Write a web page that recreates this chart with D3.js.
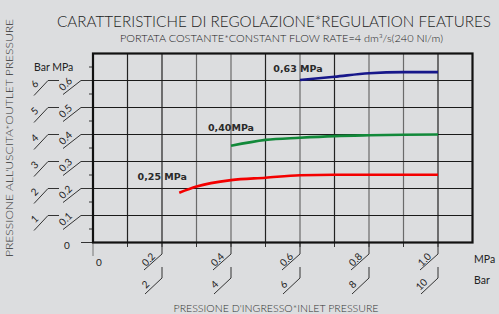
<!DOCTYPE html>
<html>
<head>
<meta charset="utf-8">
<script src="https://cdn.jsdelivr.net/npm/d3@7"></script>
<style>
  body { margin: 0; background: #dcdddf; }
  svg { display: block; font-family: Lato, 'Open Sans', sans-serif; }
</style>
</head>
<body>
<div class="chart"></div>
<script>
// inlet pressure (MPa) -> outlet pressure (MPa)
const inletTicks = [0, 0.1, 0.2, 0.3, 0.4, 0.5, 0.6, 0.7, 0.8, 0.9, 1.0];
const inletLabelVals = [0.2, 0.4, 0.6, 0.8, 1.0];
const inletMpaLabels = ['0.2', '0.4', '0.6', '0.8', '1.0'];
const inletBarLabels = ['2', '4', '6', '8', '10'];

const outletVals = [0.1, 0.2, 0.3, 0.4, 0.5, 0.6];
const outletMpaLabels = ['0.1', '0.2', '0.3', '0.4', '0.5', '0.6'];
const outletBarLabels = ['1', '2', '3', '4', '5', '6'];
const outletMinor = [0.05, 0.15, 0.25, 0.35, 0.45, 0.55, 0.65];

const seriesNames = ['0,25 MPa', '0,40MPa', '0,63 MPa'];
const curve025 = [[0.25, 0.184], [0.30, 0.207], [0.40, 0.231], [0.50, 0.240], [0.60, 0.249], [0.70, 0.251], [1.0, 0.251]];
const curve040 = [[0.40, 0.358], [0.50, 0.380], [0.60, 0.388], [0.70, 0.394], [0.80, 0.397], [0.90, 0.399], [1.0, 0.400]];
const curve063 = [[0.60, 0.602], [0.70, 0.614], [0.80, 0.627], [0.90, 0.631], [1.0, 0.631]];

const colors = ['#f40000', '#12893a', '#17178a'];
const labelOffsets = [[-17, -16], [0, -18], [-2, -11]];

const W = 499, H = 314;
const x = d3.scaleLinear().domain([0, 1.1]).range([93, 472.5]);
const y = d3.scaleLinear().domain([0, 0.7]).range([242.5, 53.5]);

const svg = d3.select('.chart').append('svg')
  .attr('width', W)
  .attr('height', H);

svg.append('rect').attr('width', W).attr('height', H).attr('fill', '#dcdddf');

// titles
svg.append('text')
  .attr('x', 274).attr('y', 27)
  .attr('text-anchor', 'middle')
  .attr('font-size', 15.5)
  .attr('font-weight', 300)
  .attr('textLength', 434).attr('lengthAdjust', 'spacingAndGlyphs')
  .attr('fill', '#222')
  .text('CARATTERISTICHE DI REGOLAZIONE*REGULATION FEATURES');

svg.append('text')
  .attr('x', 281.5).attr('y', 42)
  .attr('text-anchor', 'middle')
  .attr('font-size', 9.5)
  .attr('font-weight', 300)
  .attr('textLength', 323).attr('lengthAdjust', 'spacingAndGlyphs')
  .attr('fill', '#222')
  .text('PORTATA COSTANTE*CONSTANT FLOW RATE=4 dm³/s(240 Nl/m)');

svg.append('text')
  .attr('transform', 'translate(13,138) rotate(-90)')
  .attr('text-anchor', 'middle')
  .attr('font-size', 9)
  .attr('font-weight', 300)
  .attr('textLength', 238).attr('lengthAdjust', 'spacingAndGlyphs')
  .attr('fill', '#333')
  .text("PRESSIONE ALL'USCITA*OUTLET PRESSURE");

svg.append('text')
  .attr('x', 276).attr('y', 312)
  .attr('text-anchor', 'middle')
  .attr('font-size', 9)
  .attr('font-weight', 300)
  .attr('textLength', 205).attr('lengthAdjust', 'spacingAndGlyphs')
  .attr('fill', '#333')
  .text("PRESSIONE D'INGRESSO*INLET PRESSURE");

// grid
const grid = svg.append('g');
grid.selectAll('.vg')
  .data(inletTicks.filter(d => d > 0))
  .enter().append('line')
  .attr('x1', d => x(d)).attr('x2', d => x(d))
  .attr('y1', y(0.7)).attr('y2', y(0))
  .attr('stroke', (d, i) => [0, 1, 4, 6, 9].includes(i) ? '#222' : '#6a6a6a')
  .attr('stroke-width', 1.2);

grid.selectAll('.hg')
  .data(outletVals)
  .enter().append('line')
  .attr('x1', x(0)).attr('x2', x(1.1))
  .attr('y1', d => y(d)).attr('y2', d => y(d))
  .attr('stroke', '#1a1a1a')
  .attr('stroke-width', 1.2);

// bottom ticks
const axisB = svg.append('g').attr('stroke', '#333').attr('fill', 'none').attr('stroke-width', 1);
axisB.selectAll('.bt')
  .data(inletTicks)
  .enter().append('line')
  .attr('x1', d => x(d)).attr('x2', d => x(d))
  .attr('y1', y(0)).attr('y2', d => d === 0 ? 256 : 247)
  .attr('stroke', d => d === 0 ? '#777' : '#333');

axisB.selectAll('.bc1')
  .data(inletLabelVals)
  .enter().append('path')
  .attr('d', d => `M${x(d)},${y(0)}V254L${x(d) - 18},270`);

axisB.selectAll('.bc2')
  .data(inletLabelVals)
  .enter().append('path')
  .attr('d', d => `M${x(d)},267V278L${x(d) - 17},294`);

const bl = svg.append('g').attr('font-size', 10).attr('fill', '#222').attr('text-anchor', 'middle');
bl.selectAll('.bm')
  .data(inletLabelVals)
  .enter().append('text')
  .attr('transform', d => `translate(${x(d) - 11},${262}) rotate(-45)`)
  .text((d, i) => inletMpaLabels[i]);
bl.selectAll('.bb')
  .data(inletLabelVals)
  .enter().append('text')
  .attr('transform', d => `translate(${x(d) - 14},${287}) rotate(-45)`)
  .text((d, i) => inletBarLabels[i]);
bl.append('text').attr('x', x(0) + 6).attr('y', 266).text('0');
bl.append('text').attr('x', 474).attr('y', 263).attr('text-anchor', 'start').attr('font-size', 10.5).text('MPa');
bl.append('text').attr('x', 474).attr('y', 284).attr('text-anchor', 'start').attr('font-size', 10.5).text('Bar');

// left ticks
const axisL = svg.append('g').attr('stroke', '#333').attr('fill', 'none').attr('stroke-width', 1);
axisL.selectAll('.lm')
  .data(outletMinor)
  .enter().append('line')
  .attr('x1', x(0) - 4).attr('x2', x(0))
  .attr('y1', d => y(d)).attr('y2', d => y(d));
axisL.append('line')
  .attr('x1', 81).attr('x2', x(0))
  .attr('y1', y(0)).attr('y2', y(0));
axisL.selectAll('.lc1')
  .data(outletVals)
  .enter().append('path')
  .attr('d', d => `M63,${y(d) + 14}L81,${y(d)}H${x(0)}`);
axisL.selectAll('.lc2')
  .data(outletVals)
  .enter().append('path')
  .attr('d', d => `M34,${y(d) + 15}L48,${y(d)}H59`);

const ll = svg.append('g').attr('font-size', 10).attr('fill', '#222').attr('text-anchor', 'middle');
ll.selectAll('.lmt')
  .data(outletVals)
  .enter().append('text')
  .attr('transform', d => `translate(${68},${y(d) + 6}) rotate(-45)`)
  .text((d, i) => outletMpaLabels[i]);
ll.selectAll('.lbt')
  .data(outletVals)
  .enter().append('text')
  .attr('transform', d => `translate(${37},${y(d) + 6}) rotate(-45)`)
  .text((d, i) => outletBarLabels[i]);
ll.append('text').attr('x', 67).attr('y', y(0) + 6).text('0');
ll.append('text').attr('x', 34).attr('y', y(0.65) + 4).attr('text-anchor', 'start').attr('font-size', 10.5).text('Bar MPa');

// frame
svg.append('rect')
  .attr('x', x(0)).attr('y', y(0.7))
  .attr('width', x(1.1) - x(0)).attr('height', y(0) - y(0.7))
  .attr('fill', 'none').attr('stroke', '#111').attr('stroke-width', 2.2);

// curves
const line = d3.line().x(d => x(d[0])).y(d => y(d[1])).curve(d3.curveMonotoneX);
const curves = [curve025, curve040, curve063];
svg.selectAll('.curve')
  .data(curves)
  .enter().append('path')
  .attr('d', line)
  .attr('fill', 'none')
  .attr('stroke', (d, i) => colors[i])
  .attr('stroke-width', 2.6);

svg.selectAll('.clabel')
  .data(curves)
  .enter().append('text')
  .attr('x', (d, i) => x(d[0][0]) + labelOffsets[i][0])
  .attr('y', (d, i) => y(d[0][1]) + labelOffsets[i][1] + 3.5)
  .attr('text-anchor', 'middle')
  .attr('font-family', "'DejaVu Sans', sans-serif")
  .attr('font-weight', 'bold')
  .attr('font-size', 9.5)
  .attr('fill', '#2a2a2a')
  .text((d, i) => seriesNames[i]);
</script>
</body>
</html>
